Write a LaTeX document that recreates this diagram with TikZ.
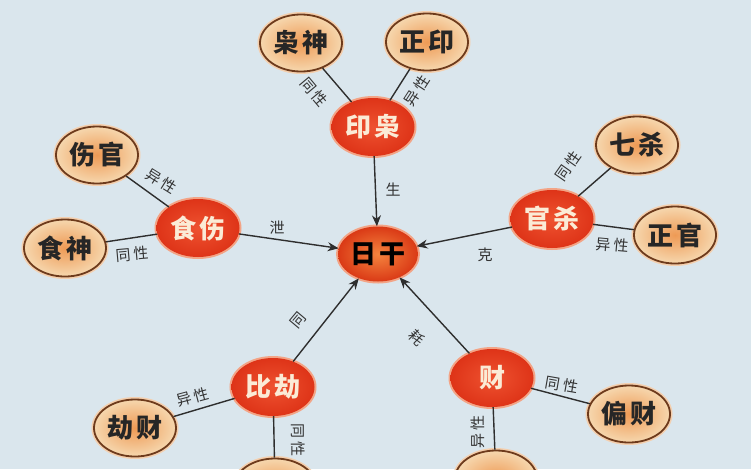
\documentclass[tikz,border=0pt]{standalone}
\usepackage{fontspec}
\newfontfamily\cjk{Noto Sans CJK SC}
\usetikzlibrary{shapes.geometric,arrows.meta}
\definecolor{bgc}{HTML}{DAE6ED}
\definecolor{redc}{HTML}{DE3418}
\definecolor{redin}{HTML}{EE5230}
\definecolor{redhalo}{HTML}{F3A486}
\definecolor{begin}{HTML}{EE9A55}
\definecolor{begout}{HTML}{F6D7AE}
\definecolor{brownc}{HTML}{6E3B1C}
\definecolor{halo}{HTML}{F4CFAE}
\definecolor{linec}{HTML}{2E2E2E}
\definecolor{creamc}{HTML}{FBEBD6}
\definecolor{corein}{HTML}{F5843E}
\definecolor{coreout}{HTML}{DA3A16}
\tikzset{
  hub/.style={ellipse, minimum width=83pt, minimum height=58pt, inner sep=0pt,
    inner color=redin, outer color=redc,
    preaction={draw=redhalo, line width=4pt},
    font=\cjk\bfseries\fontsize{26}{26}\selectfont\addfontfeature{LetterSpace=8}, text=creamc},
  leaf/.style={ellipse, minimum width=82pt, minimum height=57pt, inner sep=0pt,
    inner color=begin, outer color=begout,
    preaction={draw=halo, line width=5pt},
    draw=brownc, line width=1.8pt,
    font=\cjk\bfseries\fontsize{26}{26}\selectfont\addfontfeature{LetterSpace=8}, text=black!85},
  core/.style={ellipse, minimum width=80pt, minimum height=55pt, inner sep=0pt,
    inner color=corein, outer color=coreout,
    preaction={draw=redhalo, line width=4pt},
    font=\cjk\bfseries\fontsize{26}{26}\selectfont\addfontfeature{LetterSpace=8}, text=black},
  link/.style={draw=linec, line width=1.4pt},
  arr/.style={draw=linec, line width=1.4pt, -{Stealth[length=11pt,width=9pt]}},
  lab/.style={font=\cjk\fontsize{15}{15}\selectfont\addfontfeature{LetterSpace=20}, text=black!80, inner sep=0pt},
}
\begin{document}
\begin{tikzpicture}[x=1pt,y=-1pt]
\useasboundingbox (0,0) rectangle (751,469);
\clip (0,0) rectangle (751,469);
\fill[bgc] (0,0) rectangle (751,469);

% hubs
\node[core] (rg) at (378,254) {日干};
\node[hub] (yx) at (373,127) {印枭};
\node[hub] (ss) at (198,228) {食伤};
\node[hub] (gs) at (552,219) {官杀};
\node[hub] (bj) at (273,387) {比劫};
\node[hub] (cai) at (492,378) {财};

% leaves
\node[leaf] (xs) at (301,43) {枭神};
\node[leaf] (zy) at (427,42) {正印};
\node[leaf] (sg) at (97,155) {伤官};
\node[leaf] (shen) at (65,248) {食神};
\node[leaf] (qs) at (637,145) {七杀};
\node[leaf] (zg) at (675,235) {正官};
\node[leaf] (jc) at (135,428) {劫财};
\node[leaf] (pc) at (629,414) {偏财};
\node[leaf] (b1) at (275,487) {};
\node[leaf] (b2) at (496,479) {};

% links
\draw[link] (xs) -- (yx);
\draw[link] (zy) -- (yx);
\draw[link] (sg) -- (ss);
\draw[link] (shen) -- (ss);
\draw[link] (qs) -- (gs);
\draw[link] (zg) -- (gs);
\draw[link] (jc) -- (bj);
\draw[link] (b1) -- (bj);
\draw[link] (pc) -- (cai);
\draw[link] (b2) -- (cai);

% arrows
\draw[arr] (yx) -- (rg);
\draw[arr] (ss) -- (rg);
\draw[arr] (gs) -- (rg);
\draw[arr] (bj) -- (rg);
\draw[arr] (cai) -- (rg);

% labels
\node[lab, rotate=-50] (l1) at (314,92) {同性};
\node[lab, rotate=57] (l2) at (417,91) {异性};
\node[lab] (l3) at (393,190) {生};
\node[lab, rotate=-32] (l4) at (161,181) {异性};
\node[lab, rotate=5] (l5) at (132,254) {同性};
\node[lab] (l6) at (277,228) {泄};
\node[lab, rotate=55] (l7) at (568,166) {同性};
\node[lab, rotate=-5] (l8) at (612,245) {异性};
\node[lab] (l9) at (485,255) {克};
\node[lab, rotate=50] (l10) at (298,320) {同};
\node[lab, rotate=-45] (l11) at (417,338) {耗};
\node[lab, rotate=15] (l12) at (193,397) {异性};
\node[lab, rotate=-90] (l13) at (298,440) {同性};
\node[lab, rotate=-10] (l14) at (562,385) {同性};
\node[lab, rotate=90] (l15) at (478,432) {异性};
\end{tikzpicture}
\end{document}
